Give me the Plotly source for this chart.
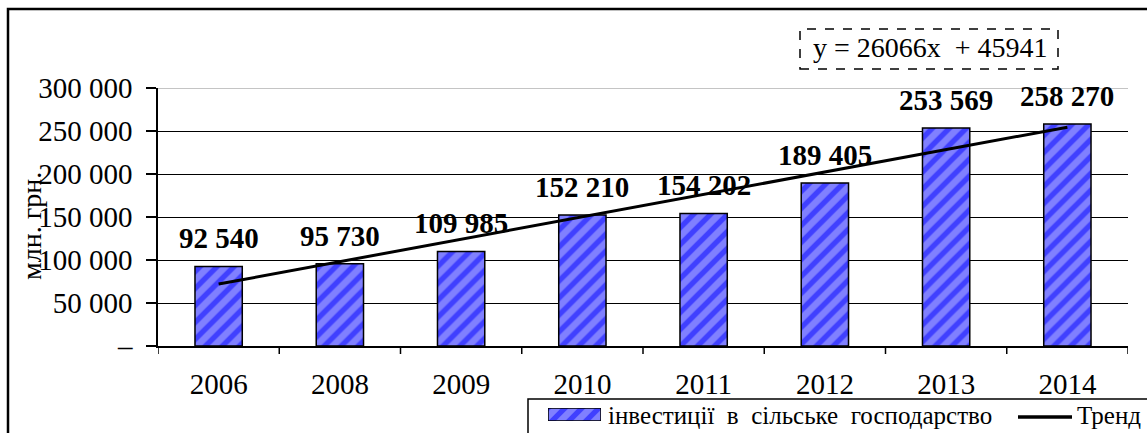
import numpy as np
import plotly.graph_objects as go

# ---- data ----
years = ["2006", "2008", "2009", "2010", "2011", "2012", "2013", "2014"]
investments = [92540, 95730, 109985, 152210, 154202, 189405, 253569, 258270]
y_tick_vals = [0, 50000, 100000, 150000, 200000, 250000, 300000]
y_tick_text = ["–", "50 000", "100 000", "150 000", "200 000", "250 000", "300 000"]
series_name = "інвестиції  в  сільське  господарство"
trend_name = "Тренд"
y_title = "млн. грн."

W, H = 1147, 433
FONT = "Liberation Serif"

def px(x):
    return x / W

def py(y):
    return 1 - y / H

# linear trend (least squares on the data)
idx = np.arange(1, len(investments) + 1)
slope, intercept = np.polyfit(idx, investments, 1)
trend = slope * idx + intercept
eq_text = f"y = {slope:.0f}x\u00a0\u00a0+ {intercept:.0f}"

def fmt(v):
    return f"{v:,}".replace(",", " ")

pos = list(range(len(years)))

fig = go.Figure()

pattern = dict(shape="/", fgcolor="#0000ff", bgcolor="#8080ff", size=12, solidity=0.45)

fig.add_trace(go.Bar(
    x=pos, y=investments, width=0.39,
    marker=dict(color="#8080ff", pattern=pattern, line=dict(color="black", width=1.5)),
    showlegend=False, xaxis="x", yaxis="y",
))
fig.add_trace(go.Scatter(
    x=pos, y=trend, mode="lines", line=dict(color="black", width=3),
    showlegend=False, xaxis="x", yaxis="y",
))
# legend swatch (bar on a small auxiliary axis)
fig.add_trace(go.Bar(
    x=[0], y=[1], width=1,
    marker=dict(color="#8080ff", pattern=pattern, line=dict(color="black", width=1.5)),
    showlegend=False, xaxis="x2", yaxis="y2", hoverinfo="skip",
))

annotations = []
for i, v in zip(pos, investments):
    annotations.append(dict(
        x=i, y=v, xref="x", yref="y", text=f"<b>{fmt(v)}</b>", showarrow=False,
        xanchor="center", yanchor="bottom", yshift=10,
        font=dict(family=FONT, size=29, color="black"),
    ))

annotations += [
    dict(x=px(31), y=py(226), xref="paper", yref="paper", text=y_title, textangle=-90,
         xanchor="center", yanchor="middle",
         showarrow=False, font=dict(family=FONT, size=28, color="black")),
    dict(x=px(930), y=py(48), xref="paper", yref="paper", text=eq_text,
         xanchor="center", yanchor="middle",
         showarrow=False, font=dict(family=FONT, size=28, color="black")),
    dict(x=px(606), y=py(415), xref="paper", yref="paper", text=series_name,
         xanchor="left", yanchor="middle",
         showarrow=False, font=dict(family=FONT, size=25, color="black")),
    dict(x=px(1075), y=py(415), xref="paper", yref="paper", text=trend_name,
         xanchor="left", yanchor="middle",
         showarrow=False, font=dict(family=FONT, size=25, color="black")),
]

shapes = [
    # outer frame
    dict(type="rect", xref="paper", yref="paper", x0=px(8), x1=px(1160), y0=py(445), y1=py(9),
         line=dict(color="black", width=2.5), layer="above"),
    # top border of plot area
    dict(type="line", xref="paper", yref="y", x0=px(158), x1=px(1128), y0=300000, y1=300000,
         line=dict(color="#b0b0b0", width=1.5), layer="above"),
    # equation box
    dict(type="rect", xref="paper", yref="paper", x0=px(800), x1=px(1058), y0=py(69), y1=py(29),
         line=dict(color="black", width=1.5, dash="dash")),
    # legend box
    dict(type="rect", xref="paper", yref="paper", x0=px(528), x1=px(1160), y0=py(445), y1=py(399),
         line=dict(color="black", width=1.5)),
    # legend trend line
    dict(type="line", xref="paper", yref="paper", x0=px(1018), x1=px(1072), y0=py(417), y1=py(417),
         line=dict(color="black", width=3.5)),
]

fig.update_layout(
    width=W, height=H,
    margin=dict(l=0, r=0, t=0, b=0, pad=0),
    paper_bgcolor="white", plot_bgcolor="white",
    font=dict(family=FONT, color="black"),
    xaxis=dict(
        domain=[px(158), px(1128)], range=[-0.5, len(years) - 0.5], autorange=False,
        tickmode="array", tickvals=pos, ticktext=years, tickangle=0,
        showline=True, linecolor="black", linewidth=2,
        ticks="", showgrid=False, zeroline=False, automargin=False,
        tickfont=dict(family=FONT, size=29, color="black"),
        ticklabelstandoff=11,
    ),
    yaxis=dict(
        domain=[py(346), py(88)], range=[0, 300000], autorange=False,
        tickvals=y_tick_vals, ticktext=y_tick_text,
        showline=True, linecolor="black", linewidth=1.5,
        ticks="outside", ticklen=10, tickwidth=1.5, tickcolor="black",
        showgrid=True, gridcolor="black", gridwidth=1.4, zeroline=False, automargin=False,
        tickfont=dict(family=FONT, size=29, color="black"),
        ticklabelstandoff=8,
    ),
    xaxis2=dict(domain=[px(548), px(601)], range=[-0.5, 0.5], visible=False, fixedrange=True,
                anchor="y2"),
    yaxis2=dict(domain=[py(421), py(408)], range=[0, 1], visible=False, fixedrange=True,
                anchor="x2"),
    annotations=annotations,
    shapes=shapes,
    showlegend=False,
)

# category boundary tick marks below the x axis
boundaries = [p - 0.5 for p in pos] + [len(years) - 0.5]
for b in boundaries:
    fig.add_shape(type="line", xref="x", yref="paper", x0=b, x1=b, y0=py(346), y1=py(354),
                  line=dict(color="black", width=1.5))

fig.write_html(
    "out.html",
    config={"displayModeBar": False},
    post_script="document.body.style.margin='0';document.body.style.overflow='hidden';",
)
